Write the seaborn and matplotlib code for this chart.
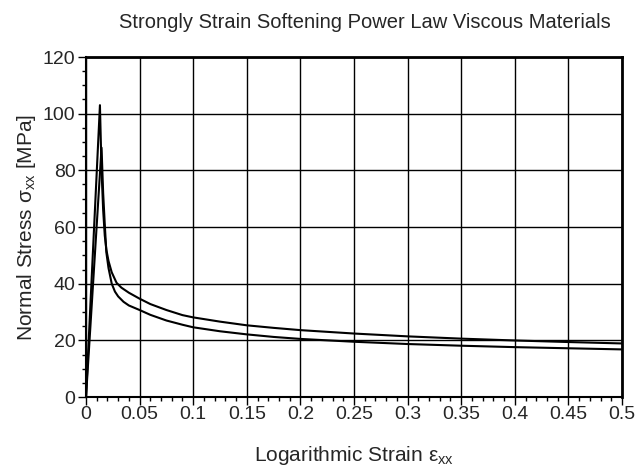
import matplotlib
matplotlib.use("Agg")
import matplotlib.pyplot as plt
import seaborn as sns
import pandas as pd
from matplotlib.ticker import MultipleLocator, FormatStrFormatter

# Curve with the higher peak (upper tail)
strain_a = [0, 0.013, 0.0145, 0.016, 0.0175, 0.019, 0.021, 0.024, 0.0285, 0.033, 0.04, 0.05,
            0.06, 0.075, 0.09, 0.1, 0.125, 0.15, 0.175, 0.2, 0.25, 0.3, 0.35, 0.4, 0.45, 0.5]
stress_a = [0, 103, 80, 66, 57, 52, 48, 44, 40.3, 38.6, 36.8, 34.7,
            32.8, 30.7, 28.9, 28.1, 26.6, 25.3, 24.4, 23.6, 22.4, 21.4, 20.6, 19.95, 19.4, 18.9]

# Curve with the lower peak (lower tail)
strain_b = [0, 0.0145, 0.016, 0.0175, 0.019, 0.021, 0.024, 0.027, 0.03, 0.035, 0.04, 0.05,
            0.06, 0.075, 0.09, 0.1, 0.125, 0.15, 0.175, 0.2, 0.25, 0.3, 0.35, 0.4, 0.45, 0.5]
stress_b = [0, 88, 72, 61, 51, 45.5, 40, 37.2, 35.5, 33.6, 32.3, 30.7,
            29.0, 27.0, 25.5, 24.6, 23.2, 22.1, 21.2, 20.5, 19.5, 18.7, 18.1, 17.6, 17.2, 16.8]

x_ticks = [0, 0.05, 0.1, 0.15, 0.2, 0.25, 0.3, 0.35, 0.4, 0.45, 0.5]
y_ticks = [0, 20, 40, 60, 80, 100, 120]

title = "Strongly Strain Softening Power Law Viscous Materials"

sns.set_style("white")
plt.rcParams["font.family"] = ["Liberation Sans", "DejaVu Sans"]
plt.rcParams["mathtext.fontset"] = "custom"
plt.rcParams["mathtext.rm"] = "Liberation Sans"
plt.rcParams["mathtext.it"] = "Liberation Sans"

fig = plt.figure(figsize=(6.4, 4.65), dpi=100)
ax = fig.add_axes([86/640, 1-397/465, (622-86)/640, (397-57)/465])

df_a = pd.DataFrame({"strain": strain_a, "stress": stress_a})
df_b = pd.DataFrame({"strain": strain_b, "stress": stress_b})
sns.lineplot(data=df_a, x="strain", y="stress", ax=ax, color="black", lw=1.5, sort=False, zorder=3)
sns.lineplot(data=df_b, x="strain", y="stress", ax=ax, color="black", lw=1.5, sort=False, zorder=3)

ax.set_xlim(0, 0.5)
ax.set_ylim(0, 120)
ax.set_xticks(x_ticks)
ax.set_yticks(y_ticks)
ax.xaxis.set_minor_locator(MultipleLocator(0.01))
ax.yaxis.set_minor_locator(MultipleLocator(5))
ax.xaxis.set_major_formatter(FormatStrFormatter("%g"))
ax.grid(True, which="major", color="black", lw=1.0)
ax.tick_params(which="major", direction="out", length=6, width=1, labelsize=14, color="black",
               bottom=True, left=True)
ax.tick_params(axis="x", which="major", pad=0.5)
ax.tick_params(axis="y", which="major", pad=1.5)
ax.tick_params(which="minor", direction="out", length=3, width=1, color="black",
               bottom=True, left=True)
for s in ax.spines.values():
    s.set_color("black")
    s.set_linewidth(1.5)
ax.spines["top"].set_linewidth(2)
ax.spines["right"].set_linewidth(2)

ax.set_xlabel(r"Logarithmic Strain ε$_{\mathrm{xx}}$", fontsize=15)
ax.set_ylabel(r"Normal Stress σ$_{\mathrm{xx}}$ [MPa]", fontsize=15)
ax.xaxis.set_label_coords(0.5, (397 - 455) / 340)
ax.xaxis.label.set_va("center")
ax.yaxis.set_label_coords((27 - 86) / 536, 0.5)
ax.yaxis.label.set_va("center")
fig.text(365/640, 1 - 22/465, title, ha="center", va="center", fontsize=14.5)

fig.savefig("out.png", dpi=100)
